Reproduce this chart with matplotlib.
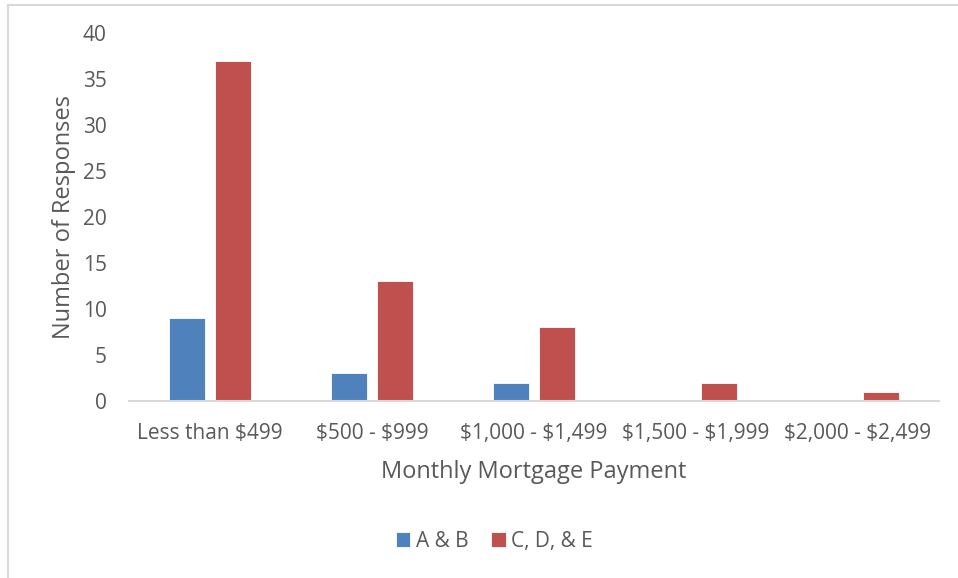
import matplotlib.pyplot as plt
import numpy as np
from matplotlib.patches import Rectangle

categories = ['Less than $499', '$500 - $999', '$1,000 - $1,499', '$1,500 - $1,999', '$2,000 - $2,499']
ab_values = [9, 3, 2, 0, 0]
cde_values = [37, 13, 8, 2, 1]
series_names = ['A & B', 'C, D, & E']

plt.rcParams['font.family'] = ['Open Sans', 'DejaVu Sans']
plt.rcParams['text.parse_math'] = False
text_color = '#595959'

fig = plt.figure(figsize=(9.58, 5.78), dpi=100)
ax = fig.add_axes([0.1347, 0.3062, 0.8455, 0.6367])

x = np.arange(len(categories))
w = 0.222
off = 0.031 + w / 2
ax.bar(x - off, ab_values, w, color='#4F81BD', edgecolor='white', linewidth=0.6, label=series_names[0])
ax.bar(x + off, cde_values, w, color='#C0504D', edgecolor='white', linewidth=0.6, label=series_names[1])

ax.set_xlim(-0.5, len(categories) - 0.5)
ax.set_ylim(0, 40)
ax.set_yticks(range(0, 41, 5))
ax.set_xticks(x)
ax.set_xticklabels(categories)

for s in ['top', 'right', 'left']:
    ax.spines[s].set_visible(False)
ax.spines['bottom'].set_color('#D9D9D9')
ax.spines['bottom'].set_linewidth(1.5)
ax.tick_params(axis='both', length=0, labelsize=15, colors=text_color)
ax.tick_params(axis='y', pad=16)
ax.tick_params(axis='x', pad=16)

ax.set_xlabel('Monthly Mortgage Payment', fontsize=17, color=text_color, labelpad=11)
ax.set_ylabel('Number of Responses', fontsize=17, color=text_color, labelpad=5)

ax.legend(loc='center', bbox_to_anchor=(0.516, 0.064), bbox_transform=fig.transFigure,
          ncol=2, frameon=False, fontsize=15, labelcolor=text_color,
          handlelength=0.7, handleheight=0.7, handletextpad=0.25, columnspacing=1.1)

fig.patches.append(Rectangle((8 / 958, -0.01), 1.0, 1 - 5 / 578 + 0.01, transform=fig.transFigure,
                             fill=False, edgecolor='#D9D9D9', linewidth=1.5))

fig.savefig('out.png', dpi=100)
